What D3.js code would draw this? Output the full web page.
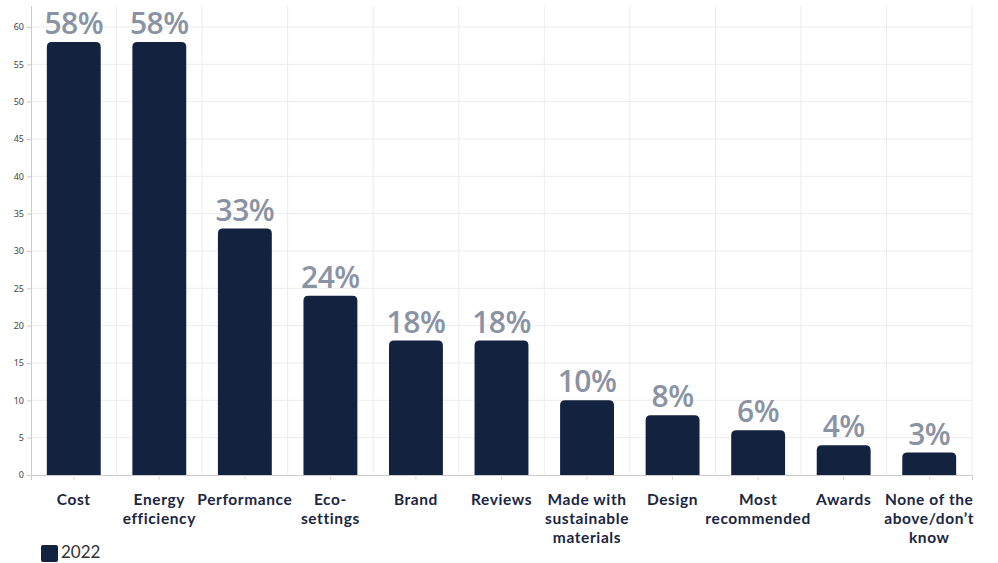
<!DOCTYPE html>
<html><head><meta charset="utf-8">
<script src="https://cdn.jsdelivr.net/npm/d3@7"></script>
<style>body{margin:0;background:#fff}svg{display:block}</style>
</head><body><svg id="c" width="998" height="563"></svg>
<script>
const categories = ["Cost","Energy efficiency","Performance","Eco-settings","Brand","Reviews","Made with sustainable materials","Design","Most recommended","Awards","None of the above/don’t know"];
const labelLines = [["Cost"],["Energy","efficiency"],["Performance"],["Eco-","settings"],["Brand"],["Reviews"],["Made with","sustainable","materials"],["Design"],["Most","recommended"],["Awards"],["None of the","above/don’t","know"]];
const values2022 = [58,58,33,24,18,18,10,8,6,4,3];
const yTicks = [0,5,10,15,20,25,30,35,40,45,50,55,60];
const seriesName = "2022";

const svg = d3.select("#c");
const L = 31, R = 972, B = 475, T = 6;
const x = d3.scaleBand().domain(categories).range([L, R]).paddingInner(0.37).paddingOuter(0.185);
const y = d3.scaleLinear().domain([0, 60]).range([B, 27]);

// horizontal grid
svg.append("g").selectAll("line").data(yTicks.slice(1)).join("line")
  .attr("x1", L).attr("x2", R).attr("y1", d => y(d)).attr("y2", d => y(d))
  .attr("stroke", "#ececec").attr("stroke-width", 1);
// vertical grid at band boundaries
const step = (R - L) / categories.length;
svg.append("g").selectAll("line").data(d3.range(1, categories.length + 1)).join("line")
  .attr("x1", i => L + i * step).attr("x2", i => L + i * step).attr("y1", T).attr("y2", B)
  .attr("stroke", "#ececec").attr("stroke-width", 1);

// y axis
const ya = svg.append("g").attr("transform", `translate(${L},0)`)
  .call(d3.axisLeft(y).tickValues(yTicks).tickSize(4).tickPadding(3));
ya.select(".domain").remove();
ya.selectAll(".tick line").attr("stroke", "#ccc");
ya.selectAll("text").attr("fill", "#444").style("font", "9px 'Noto Sans', sans-serif");
svg.append("line").attr("x1", L + 0.5).attr("x2", L + 0.5).attr("y1", T).attr("y2", B).attr("stroke", "#ccc");

// x axis
const xa = svg.append("g").attr("transform", `translate(0,${B})`)
  .call(d3.axisBottom(x).tickSize(5).tickFormat(""));
xa.select(".domain").attr("stroke", "#ccc");
xa.selectAll(".tick line").attr("stroke", "#ddd");

// bars
const bw = x.bandwidth(), r = 5;
svg.append("g").selectAll("path").data(values2022).join("path")
  .attr("fill", "#13223f")
  .attr("d", (d, i) => {
    const x0 = x(categories[i]), y0 = y(d), y1 = y(0);
    return `M${x0},${y1}V${y0 + r}Q${x0},${y0} ${x0 + r},${y0}H${x0 + bw - r}Q${x0 + bw},${y0} ${x0 + bw},${y0 + r}V${y1}Z`;
  });

// value labels
svg.append("g").selectAll("text").data(values2022).join("text")
  .attr("x", (d, i) => x(categories[i]) + bw / 2)
  .attr("y", d => y(d) - 8)
  .attr("text-anchor", "middle")
  .attr("fill", "#8a93a3")
  .style("font", "600 30px 'Open Sans', sans-serif")
  .style("letter-spacing", "-0.5px")
  .text(d => d + "%");

// category labels
const cl = svg.append("g").selectAll("text").data(categories).join("text")
  .attr("x", d => x(d) + bw / 2)
  .attr("y", 505)
  .attr("text-anchor", "middle")
  .attr("fill", "#1b2640")
  .style("font", "bold 15.5px 'Lato', sans-serif")
  .style("letter-spacing", "0.6px");
cl.each(function(d, i) {
  d3.select(this).selectAll("tspan").data(labelLines[i]).join("tspan")
    .attr("x", x(d) + bw / 2).attr("dy", (t, j) => j === 0 ? 0 : 19).text(t => t);
});

// legend
svg.append("rect").attr("x", 41).attr("y", 545).attr("width", 17).attr("height", 17).attr("rx", 2).attr("fill", "#13223f");
svg.append("text").attr("x", 61).attr("y", 558).attr("fill", "#333")
  .style("font", "17px 'Lato', sans-serif").text(seriesName);
</script></body></html>
